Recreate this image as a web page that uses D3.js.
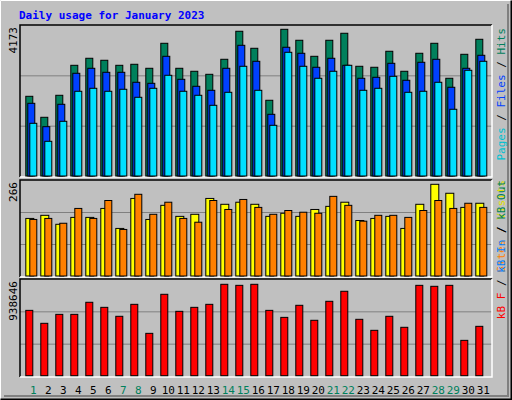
<!DOCTYPE html><html><head><script src="https://cdn.jsdelivr.net/npm/d3@7"></script>
<style>body{margin:0;background:#fff}</style></head><body><svg id="c" width="512" height="400"></svg>
<script>
const days=d3.range(1,32);
const weekend=[1,7,8,14,15,21,22,28,29];
const hits=[2267,1670,2296,3149,3349,3292,3149,3178,3064,3775,3064,2979,2893,3320,4117,3633,2154,4173,3861,3405,3861,4060,3121,3093,3548,2979,3491,3775,2780,3462,3889];
const files=[2068,1403,2040,2922,3064,2950,2950,2666,2637,3405,2751,2552,2438,3064,3718,3263,1755,3662,3491,3093,3349,3149,2780,2808,3206,2723,3235,3320,2524,3064,3434];
const pages=[1499,987,1556,2410,2495,2410,2467,2239,2495,2865,2410,2296,2011,2381,3121,2438,1442,3519,3121,2780,2979,3149,2438,2495,2836,2381,2410,2666,1898,3007,3263];
const visits=[167,176,150,170,170,196,138,225,164,205,173,179,225,208,214,208,173,182,173,193,202,214,161,167,173,138,208,266,240,199,211];
const sites=[164,167,153,196,167,219,135,237,179,214,167,156,219,193,222,199,179,190,185,182,231,205,159,176,176,170,190,219,196,211,199];
const kbytes=[671000,538000,630000,630000,754000,702000,610000,733000,435000,836000,661000,702000,733000,938646,928000,938646,671000,599000,723000,569000,764000,867000,579000,466000,610000,497000,928000,918000,928000,363000,507000];

const svg=d3.select("#c");
svg.append("rect").attr("x",0).attr("y",0).attr("width",512).attr("height",400).attr("fill","#c0c0c0");
svg.append("polyline").attr("points","0.5,399.5 0.5,0.5 511.5,0.5").attr("fill","none").attr("stroke","#fff");
svg.append("polyline").attr("points","0.5,399.5 511.5,399.5 511.5,0.5").attr("fill","none").attr("stroke","#000").attr("stroke-width",2);
svg.append("polyline").attr("points","4,396 508,396 508,4").attr("fill","none").attr("stroke","#808080").attr("stroke-width",2);
svg.append("text").attr("x",19).attr("y",19).text("Daily usage for January 2023")
 .attr("font-family","DejaVu Sans Mono").attr("font-weight","bold").attr("font-size",11).attr("fill","#0000ff");

const x=d3.scaleLinear().domain([1,32]).range([25.3,25.3+31*15]);
const L=20,R=492;
const panels=[{t:25,b:177},{t:180,b:277},{t:279,b:377}];
panels.forEach(p=>{
  svg.append("rect").attr("x",L).attr("y",p.t).attr("width",R-L).attr("height",p.b-p.t).attr("fill","#c0c0c0");
  const h=p.b-1-p.t;
  [1,2].forEach(k=>svg.append("line").attr("x1",L).attr("x2",R).attr("y1",p.b-1-h*k/3+0.5).attr("y2",p.b-1-h*k/3+0.5).attr("stroke","#808080"));
  svg.append("polyline").attr("points",`${L},${p.b} ${L},${p.t} ${R},${p.t}`).attr("fill","none").attr("stroke","#000").attr("stroke-width",1.5);
  svg.append("polyline").attr("points",`${L},${p.b} ${R},${p.b} ${R},${p.t}`).attr("fill","none").attr("stroke","#fff").attr("stroke-width",1.5);
});
const y1=d3.scaleLinear().domain([0,4173]).range([176,29.3]);
const y2=d3.scaleLinear().domain([0,266]).range([276,184.3]);
const y3=d3.scaleLinear().domain([0,938646]).range([375.7,284.3]);
function bars(data,y,off,w,col){
  svg.append("g").selectAll("rect").data(data).join("rect")
   .attr("x",(d,i)=>x(days[i])+off+0.5).attr("width",w)
   .attr("y",d=>y(d)).attr("height",d=>y.range()[0]-y(d))
   .attr("fill",col).attr("stroke","#000").attr("stroke-width",1);
}
bars(hits,y1,0,7,"#00805c");
bars(files,y1,2,7,"#0040ff");
bars(pages,y1,4,7,"#00e0ff");
bars(visits,y2,0,8,"#ffff00");
bars(sites,y2,4,7,"#ff8000");
bars(kbytes,y3,0,7,"#ff0000");

const mono="DejaVu Sans Mono";
svg.append("g").selectAll("text").data(days).join("text")
 .attr("x",d=>x(d)+8).attr("y",394).attr("text-anchor","middle").attr("font-family",mono).attr("font-size",11)
 .attr("fill",d=>weekend.includes(d)?"#00805c":"#000").text(d=>d);
function vlab(t,xx,yy){svg.append("text").attr("transform",`translate(${xx},${yy}) rotate(-90)`).attr("text-anchor","end")
 .attr("font-family",mono).attr("font-size",11).attr("fill","#000").text(t);}
vlab("4173",17,27);vlab("266",17,182);vlab("938646",17,281);
function rlab(parts,yy){const t=svg.append("text").attr("transform",`translate(505,${yy}) rotate(-90)`).attr("text-anchor","end")
 .attr("font-family",mono).attr("font-size",11);
 parts.forEach(p=>t.append("tspan").attr("fill",p[1]).text(p[0]));}
rlab([["Pages","#00c0d0"],[" / ","#000"],["Files","#0040ff"],[" / ","#000"],["Hits","#00805c"]],28);
rlab([["Sites","#ff8000"],[" / ","#000"],["Visits","#e0e000"]],180);
rlab([["kB F","#ff0000"],[" / ","#000"],["kB In","#0080ff"],[" / ","#000"],["kB Out","#00805c"]],180+100-100+0);
</script></body></html>
